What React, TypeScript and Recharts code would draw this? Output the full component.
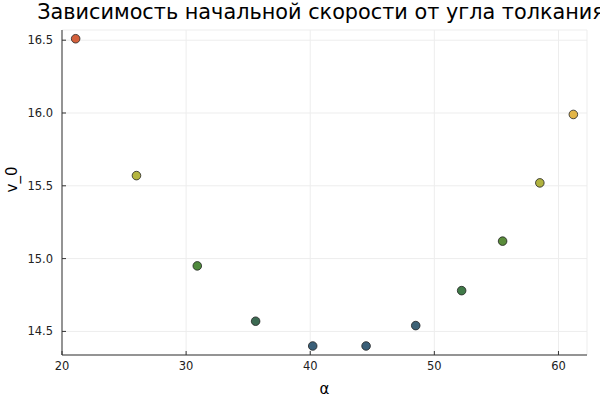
import { CartesianGrid, Cell, Scatter, ScatterChart, XAxis, YAxis } from 'recharts'

const angles = [21.1, 26.0, 30.9, 35.6, 40.2, 44.5, 48.5, 52.2, 55.5, 58.5, 61.2]
const speeds = [16.51, 15.57, 14.95, 14.57, 14.40, 14.40, 14.54, 14.78, 15.12, 15.52, 15.99]
const pointColors = ['#d4603c', '#b4b53f', '#4f8a3c', '#3c6a52', '#3a5f78', '#3a5f78', '#3d6276', '#407a48', '#5a8c3a', '#b0b23e', '#e2b548']
const xTicks = [20, 30, 40, 50, 60]
const yTicks = [14.5, 15.0, 15.5, 16.0, 16.5]

const data = angles.map((a, i) => ({ alpha: a, v0: speeds[i] }))

const font = 'DejaVu Sans, sans-serif'
const tickStyle = { fontSize: 11.5, fill: '#222', fontFamily: font }

function Dot({ cx, cy, fill }: any) {
  return <circle cx={cx} cy={cy} r={4.3} fill={fill} stroke="#222" strokeWidth={0.8} />
}

export default function App() {
  return (
    <div style={{ position: 'absolute', left: 0, top: 0, width: 600, height: 400, overflow: 'hidden', background: '#fff' }}>
      <div style={{ position: 'absolute', left: -279, width: 1200, top: 0, textAlign: 'center', fontFamily: font, fontSize: 20.8, lineHeight: '25px', whiteSpace: 'nowrap', color: '#000' }}>
        Зависимость начальной скорости от угла толкания
      </div>
      <ScatterChart width={600} height={400} margin={{ top: 30, right: 13, bottom: 0, left: 0 }}>
        <CartesianGrid stroke="#ededed" strokeWidth={1} />
        <XAxis
          type="number"
          dataKey="alpha"
          domain={[20, 62.3]}
          ticks={xTicks}
          allowDataOverflow
          height={45}
          tick={tickStyle}
          tickSize={-4}
          tickMargin={11}
          stroke="#333"
          label={{ value: 'α', position: 'insideBottom', offset: 6, fontSize: 15, fill: '#000', fontFamily: font }}
        />
        <YAxis
          type="number"
          dataKey="v0"
          domain={[14.338, 16.57]}
          ticks={yTicks}
          allowDataOverflow
          width={62}
          tick={tickStyle}
          tickSize={-4}
          tickMargin={13}
          tickFormatter={(v: number) => v.toFixed(1)}
          stroke="#333"
          label={{ value: 'v_0', angle: -90, position: 'insideLeft', offset: 12, fontSize: 15, fill: '#000', fontFamily: font }}
        />
        <Scatter data={data} shape={<Dot />} isAnimationActive={false}>
          {data.map((_, i) => (
            <Cell key={i} fill={pointColors[i]} />
          ))}
        </Scatter>
      </ScatterChart>
    </div>
  )
}
